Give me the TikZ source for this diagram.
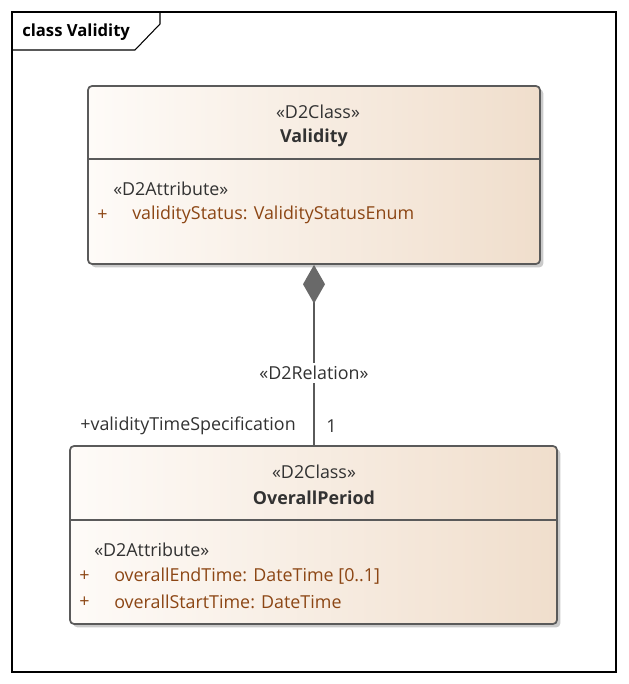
\documentclass[tikz,border=0pt]{standalone}
\usepackage{fontspec}
\setmainfont{Open Sans}
\usetikzlibrary{arrows.meta,shadows}
\definecolor{edge}{RGB}{90,90,90}
\definecolor{dia}{RGB}{105,105,105}
\definecolor{attr}{RGB}{140,70,20}
\definecolor{txt}{RGB}{50,50,50}
\definecolor{gl}{RGB}{254,251,248}
\definecolor{gr}{RGB}{240,222,204}
\tikzset{
  classbox/.style={rectangle, rounded corners=3pt, draw=edge, line width=1.3pt,
    left color=gl, right color=gr,
    drop shadow={shadow xshift=2.5pt, shadow yshift=-2.5pt, fill=black!35, opacity=0.6}},
  lbl/.style={inner sep=0pt, font=\fontsize{13.4}{15}\selectfont, text=txt},
  att/.style={inner sep=0pt, font=\fontsize{13.4}{15}\selectfont, text=attr, anchor=west},
  conn/.style={draw=edge, line width=1.4pt}
}
\begin{document}
\begin{tikzpicture}[x=0.75pt,y=-0.75pt]
\useasboundingbox (0,0) rectangle (628,684);
% frame
\draw[black, line width=0.8pt] (12,12) rectangle (616,672);
\draw[black, line width=0.8pt] (12,50) -- (135,50) -- (160,24) -- (160,12);
\node[anchor=west, inner sep=0pt, font=\fontsize{12.5}{14}\selectfont\bfseries] (title) at (22,32) {class Validity};
% Validity
\node[classbox, minimum width=339pt, minimum height=133.5pt] (val) at (314,175) {};
\draw[conn] (val.west |- 0,159) -- (val.east |- 0,159);
\node[lbl] (vst) at (318,112) {«D2Class»};
\node[lbl, font=\fontsize{13.4}{15}\selectfont\bfseries] (vnm) at (314,138) {Validity};
\node[lbl, anchor=west] (vat) at (113,189) {«D2Attribute»};
\node[att] (vp1) at (97,215) {+};
\node[att] (va1) at (132,215) {validityStatus: ValidityStatusEnum};
% OverallPeriod
\node[classbox, minimum width=365.25pt, minimum height=133.5pt] (op) at (313.5,535) {};
\draw[conn] (op.west |- 0,520) -- (op.east |- 0,520);
\node[lbl] (ost) at (314,472) {«D2Class»};
\node[lbl, font=\fontsize{13.4}{15}\selectfont\bfseries] (onm) at (314,498) {OverallPeriod};
\node[lbl, anchor=west] (oat) at (94,550) {«D2Attribute»};
\node[att] (op1) at (79,576) {+};
\node[att] (oa1) at (114,576) {overallEndTime: DateTime [0..1]};
\node[att] (op2) at (79,602) {+};
\node[att] (oa2) at (114,602) {overallStartTime: DateTime};
% connector
\coordinate (cend) at (val.south |- op.north);
\draw[conn, {Diamond[length=29pt, width=16.5pt, fill=dia, color=dia]}-] (val.south) -- node[lbl, fill=white, inner sep=2pt, pos=0.6] (rel) {«D2Relation»} (cend);
\node[lbl, anchor=east] (role) at (296,426) {+validityTimeSpecification};
\node[lbl, anchor=west] (mult) at (326,426) {1};
\end{tikzpicture}
\end{document}
